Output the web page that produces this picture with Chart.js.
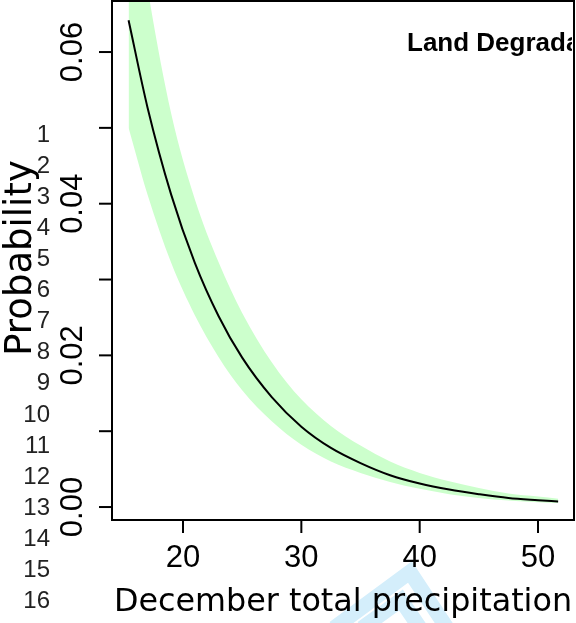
<!DOCTYPE html>
<html>
<head>
<meta charset="utf-8">
<script src="https://cdn.jsdelivr.net/npm/chart.js@4.4.1/dist/chart.umd.min.js"></script>
<style>
  html, body { margin: 0; padding: 0; background: #fff; }
  #wrap { width: 576px; height: 623px; position: relative; }
</style>
</head>
<body>
<div id="wrap"><canvas id="probChart" width="576" height="623"></canvas></div>
<script>
// December total precipitation vs predicted probability, with confidence band
const precip    = [15.4, 17, 19, 21, 23, 25, 27.5, 30, 32.5, 35, 37.5, 40, 42.5, 45, 47.5, 50, 51.7];
const probFit   = [0.0642, 0.0527, 0.0412, 0.0322, 0.0252, 0.0197, 0.0145, 0.0106, 0.0078, 0.0058, 0.0042, 0.0031, 0.0023, 0.0017, 0.0012, 0.00091, 0.00074];
const probLower = [0.0500, 0.0412, 0.0322, 0.0253, 0.0198, 0.0154, 0.0113, 0.0082, 0.0060, 0.0045, 0.0033, 0.0024, 0.0017, 0.0012, 0.00086, 0.00064, 0.00052];
const probUpper = [0.0854, 0.0685, 0.0519, 0.0406, 0.0323, 0.0256, 0.0191, 0.0142, 0.0107, 0.0081, 0.0060, 0.0045, 0.0034, 0.0025, 0.0018, 0.0014, 0.0011];

const xTicks = [20, 30, 40, 50];
const yTicks = [0, 0.01, 0.02, 0.03, 0.04, 0.05, 0.06];
const yTickLabels = ['0.00', '', '0.02', '', '0.04', '', '0.06'];
const lineNumbers = ['1', '2', '3', '4', '5', '6', '7', '8', '9', '10', '11', '12', '13', '14', '15', '16'];

const pts = (ys) => precip.map((x, i) => ({ x: x, y: ys[i] }));

// R-style base graphics axes, box and labels
const baseAxes = {
    id: 'baseAxes',
    beforeDraw(chart) {
        const ctx = chart.ctx;
        ctx.save();
        // faint badge behind the x title
        ctx.strokeStyle = '#d4eefb';
        ctx.lineWidth = 15;
        ctx.lineJoin = 'miter';
        ctx.beginPath();
        ctx.moveTo(334, 628); ctx.lineTo(410, 572); ctx.lineTo(447, 628);
        ctx.stroke();
        ctx.beginPath();
        ctx.moveTo(362, 628); ctx.lineTo(401, 600); ctx.lineTo(420, 628);
        ctx.stroke();
        ctx.restore();
    },
    afterDraw(chart) {
        const ctx = chart.ctx;
        const area = chart.chartArea;
        const xs = chart.scales.x, ys = chart.scales.y;
        ctx.save();
        ctx.strokeStyle = '#000';
        ctx.fillStyle = '#000';
        ctx.lineWidth = 2;
        ctx.strokeRect(area.left, area.top, area.right - area.left, area.bottom - area.top);

        // x axis
        ctx.font = '31px "Liberation Sans", Arial, sans-serif';
        ctx.textAlign = 'center';
        ctx.textBaseline = 'alphabetic';
        xTicks.forEach(v => {
            const px = xs.getPixelForValue(v);
            ctx.beginPath();
            ctx.moveTo(px, area.bottom);
            ctx.lineTo(px, area.bottom + 13);
            ctx.stroke();
            ctx.fillText(String(v), px, 567);
        });

        // y axis
        yTicks.forEach((v, i) => {
            const py = ys.getPixelForValue(v);
            ctx.beginPath();
            ctx.moveTo(area.left, py);
            ctx.lineTo(area.left - 13, py);
            ctx.stroke();
            if (yTickLabels[i]) {
                ctx.save();
                ctx.translate(82, py);
                ctx.rotate(-Math.PI / 2);
                ctx.textAlign = 'center';
                ctx.fillText(yTickLabels[i], 0, 0);
                ctx.restore();
            }
        });

        // axis titles
        ctx.font = '31.8px "DejaVu Sans", sans-serif';
        ctx.textAlign = 'center';
        ctx.fillText('December total precipitation', 343, 611);

        ctx.save();
        ctx.font = '37px "DejaVu Sans", sans-serif';
        ctx.translate(31, 258);
        ctx.rotate(-Math.PI / 2);
        ctx.fillText('Probability', 0, 0);
        ctx.restore();

        // line numbers down the left margin
        ctx.fillStyle = '#222';
        ctx.font = '24px "Liberation Sans", Arial, sans-serif';
        ctx.textAlign = 'right';
        ctx.textBaseline = 'middle';
        lineNumbers.forEach((n, i) => {
            ctx.fillText(n, 50, 135 + i * 31.1);
        });

        // panel title, cut at the plot box
        ctx.beginPath();
        ctx.rect(area.left, area.top, area.right - area.left - 2, area.bottom - area.top);
        ctx.clip();
        ctx.fillStyle = '#000';
        ctx.font = 'bold 26px "Liberation Sans", Arial, sans-serif';
        ctx.textAlign = 'left';
        ctx.textBaseline = 'alphabetic';
        ctx.fillText('Land Degradation', 407, 51);
        ctx.restore();
    }
};

new Chart(document.getElementById('probChart').getContext('2d'), {
    type: 'line',
    data: {
        datasets: [
            {
                label: 'lower',
                data: pts(probLower),
                borderWidth: 0,
                borderColor: 'rgba(0,0,0,0)',
                pointRadius: 0,
                fill: false,
                cubicInterpolationMode: 'monotone',
                order: 2
            },
            {
                label: 'upper',
                data: pts(probUpper),
                borderWidth: 0,
                borderColor: 'rgba(0,0,0,0)',
                backgroundColor: '#ccffcc',
                pointRadius: 0,
                fill: '-1',
                cubicInterpolationMode: 'monotone',
                order: 1
            },
            {
                label: 'fit',
                data: pts(probFit),
                borderColor: '#000',
                borderWidth: 2,
                pointRadius: 0,
                fill: false,
                cubicInterpolationMode: 'monotone',
                order: 0
            }
        ]
    },
    options: {
        responsive: false,
        devicePixelRatio: 1,
        animation: false,
        layout: { padding: { left: 112, right: 2, top: 1, bottom: 103 } },
        plugins: {
            legend: { display: false },
            tooltip: { enabled: false }
        },
        scales: {
            x: { type: 'linear', min: 14.0, max: 53.04, display: false },
            y: { type: 'linear', min: -0.00171, max: 0.06673, display: false }
        }
    },
    plugins: [baseAxes]
});
</script>
</body>
</html>
